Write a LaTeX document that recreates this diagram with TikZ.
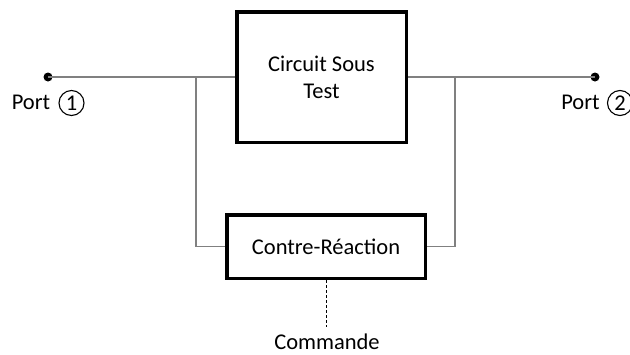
\documentclass[tikz,border=0pt]{standalone}
\usepackage{fontspec}
\setmainfont{Carlito}
\usetikzlibrary{positioning,calc}

\begin{document}
\begin{tikzpicture}[
    x=1pt, y=-1pt,
    font=\fontsize{22.5}{27}\selectfont,
    box/.style={rectangle, draw, line width=3.5pt, fill=white, align=center, inner sep=0pt},
    wire/.style={draw=black!50, line width=1.2pt},
    dot/.style={circle, fill=black, minimum size=9pt, inner sep=0pt},
    numcircle/.style={circle, draw, line width=1.1pt, minimum size=25pt, inner sep=0pt}
]
    \useasboundingbox (0,0) rectangle (630,354);
    % blocs
    \node[box, minimum width=169.5pt, minimum height=130.5pt] (cst) at (321.5,77) {Circuit Sous\\Test};
    \node[box, minimum width=198.5pt, minimum height=63.5pt] (fb) at (326,246.5) {Contre-R\'eaction};

    % ports
    \node[dot] (p1) at (48,77) {};
    \node[dot] (p2) at (595,77) {};
    \node (l1) at (31,102) {Port};
    \node[numcircle] (n1) at (71.5,103) {1};
    \node (l2) at (580.5,102) {Port};
    \node[numcircle] (n2) at (620,103) {2};

    % noeuds de jonction
    \coordinate (j1) at (196,77);
    \coordinate (j2) at (455,77);

    \draw[wire] (p1.center) -- (cst.west);
    \draw[wire] (cst.east) -- (p2.center);
    \draw[wire] (j1) |- (fb.west);
    \draw[wire] (j2) |- (fb.east);

    % commande
    \node (cmd) at (327,342) {Commande};
    \draw[line width=0.8pt, dash pattern=on 3pt off 2pt] (fb.south) -- (326,327);
\end{tikzpicture}
\end{document}
